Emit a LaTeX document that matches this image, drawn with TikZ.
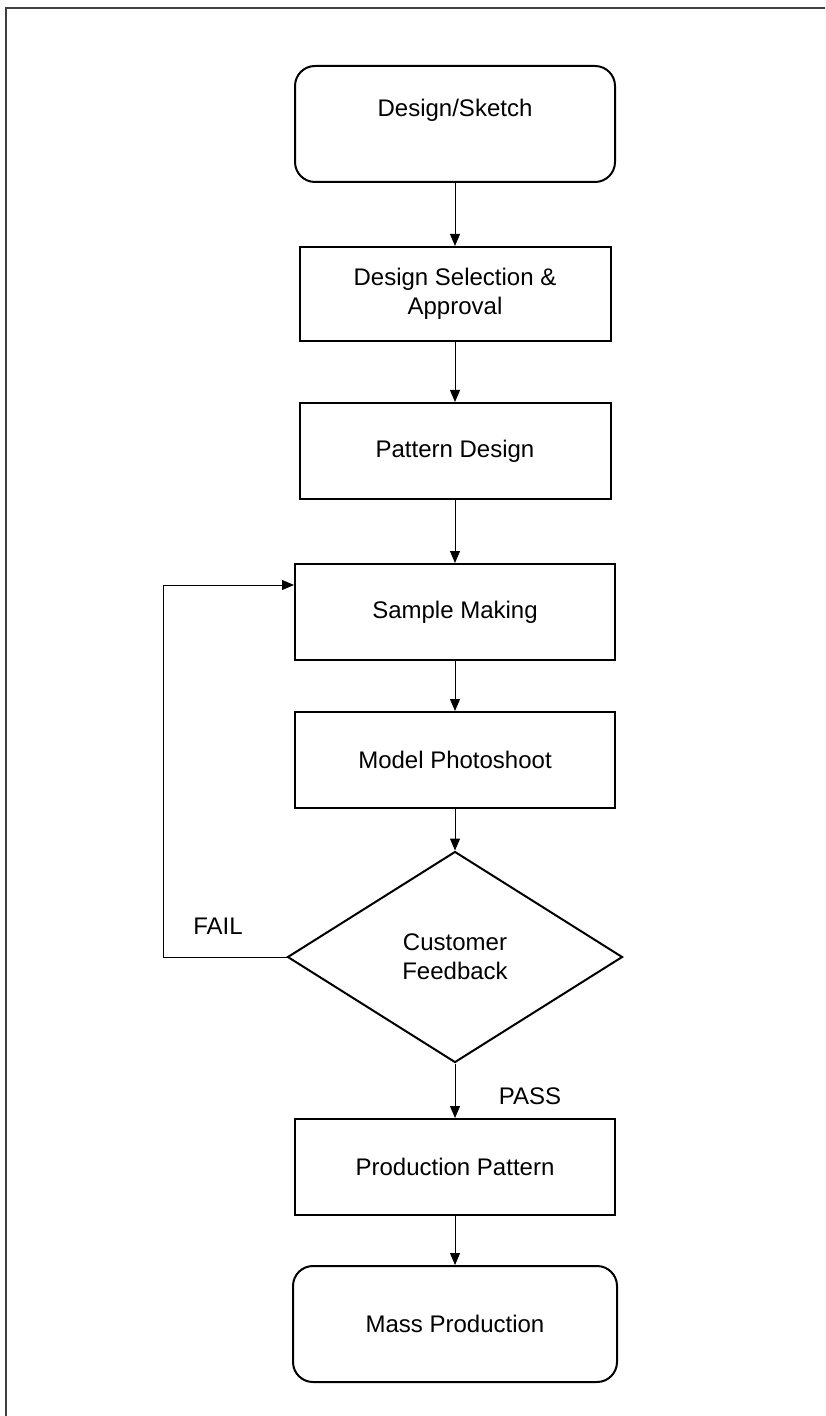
\documentclass[tikz,border=0pt]{standalone}
\usepackage{fontspec}
\setmainfont{Liberation Sans}
\usetikzlibrary{positioning,shapes.geometric,arrows.meta}

\begin{document}
\begin{tikzpicture}[x=0.5pt,y=-0.5pt]
        \tikzstyle{every node}=[font=\fontsize{12}{14.5}\selectfont, align=center]
        \tikzstyle{procbox}=[draw, line width=1pt, minimum width=158pt, minimum height=48pt]
        \tikzstyle{termbox}=[procbox, rounded corners=10pt, minimum height=58pt]
        \tikzstyle{decide}=[draw, diamond, line width=1pt, minimum width=167.5pt, minimum height=105.5pt, inner sep=0pt]
        \tikzstyle{flow}=[-{Triangle[length=6pt,width=5pt]}, line width=0.5pt]

        \useasboundingbox (0,0) rectangle (825,1416);
        \draw[line width=1pt, black!75] (825,8) -- (6,8) -- (6,1416);

        \node (sketch)   [termbox, minimum width=160pt, text depth=16pt] at (455,124) {Design/Sketch};
        \node (approve)  [procbox, minimum width=155.5pt, minimum height=47pt] at (455,294) {Design Selection \&\\Approval};
        \node (pattern)  [procbox, minimum width=155.5pt] at (455,451) {Pattern Design};
        \node (sample)   [procbox, minimum width=160pt] at (455,612) {Sample Making};
        \node (photo)    [procbox, minimum width=160pt] at (455,760) {Model Photoshoot};
        \node (feedback) [decide] at (455,957) {Customer\\Feedback};
        \node (prodpat)  [procbox, minimum width=160pt] at (455,1167) {Production Pattern};
        \node (mass)     [termbox, minimum width=162pt] at (455,1324) {Mass Production};

        \draw[flow] (sketch) -- (approve);
        \draw[flow] (approve) -- (pattern);
        \draw[flow] (pattern) -- (sample);
        \draw[flow] (sample) -- (photo);
        \draw[flow] (photo) -- (feedback);
        \draw[flow] (feedback) -- (prodpat);
        \draw[flow] (prodpat) -- (mass);

        % FAIL goes back to sampling
        \coordinate (failturn) at (163,585);
        \draw[flow] (feedback.west) -| (failturn) -- (sample.west |- failturn);

        \node (faillbl) at (218,926) {FAIL};
        \node (passlbl) at (530,1096) {PASS};

    \end{tikzpicture}
\end{document}
